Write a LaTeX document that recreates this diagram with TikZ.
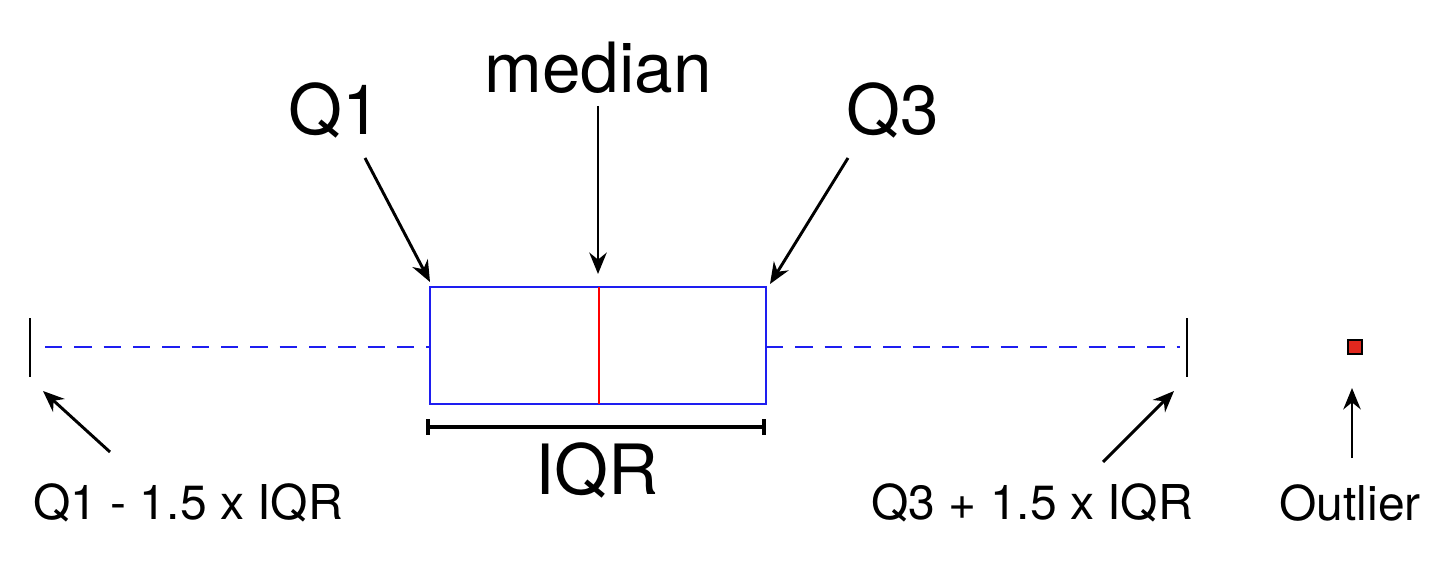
\documentclass[tikz,border=0pt]{standalone}
\usepackage{fontspec}
\setmainfont{TeX Gyre Heros}
\usetikzlibrary{arrows.meta}
\tikzset{every picture/.style={line width=0.75pt}}
\tikzset{
  biglabel/.style={inner sep=0pt, font=\fontsize{52}{56}\selectfont},
  smalllabel/.style={inner sep=0pt, font=\fontsize{36}{40}\selectfont},
  pointer/.style={line width=2.2pt, -{Stealth[length=16pt,width=13pt]}},
  boxline/.style={draw={rgb,255:red,30;green,30;blue,240}, line width=2pt},
  whisker/.style={draw={rgb,255:red,30;green,30;blue,240}, line width=1.6pt, dash pattern=on 13pt off 9pt},
}

\begin{document}
\begin{tikzpicture}[x=0.75pt,y=0.75pt,yscale=-1,xscale=1]
\useasboundingbox (0,0) rectangle (1430,570);

% box
\draw [boxline] (430,287) rectangle (766,404);
\coordinate (boxL) at (430,347);
\coordinate (boxR) at (766,347);
% median line
\draw [red, line width=2pt] (599,287) -- (599,404);

% whiskers
\coordinate (lowend) at (30,347);
\coordinate (highend) at (1187,347);
\draw [whisker] (45,347) -- (boxL);
\draw [whisker] (boxR) -- (1180,347);
\draw [line width=1.8pt] (30,318) -- (30,377);
\draw [line width=1.8pt] (1187,318) -- (1187,377);

% outlier
\node (outpt) [draw=black, fill={rgb,255:red,225;green,40;blue,30}, line width=0.8pt, minimum size=10.5pt, inner sep=0pt] at (1355,347) {};

% IQR bracket
\draw [line width=2.4pt] (428,427) -- (764,427);
\draw [line width=2.4pt] (428,419) -- (428,435);
\draw [line width=2.4pt] (764,419) -- (764,435);

% Text Node
\node (q1) [biglabel] at (335,110) {Q1};
% Text Node
\node (med) [biglabel] at (598,68) {median};
% Text Node
\node (q3) [biglabel] at (893,110) {Q3};
% Text Node
\node (iqr) [biglabel] at (597,470) {IQR};
% Text Node
\node (lowlab) [smalllabel] at (188,503) {Q1 - 1.5 x IQR};
% Text Node
\node (highlab) [smalllabel] at (1032,503) {Q3 + 1.5 x IQR};
% Text Node
\node (outlab) [smalllabel] at (1350,503) {Outlier};

% arrows
\draw [pointer] (365,158) -- (430,282);
\draw [pointer] (598,106) -- (598,274);
\draw [pointer] (848,158) -- (770,284);
\draw [pointer] (110,452) -- (43,391);
\draw [pointer] (1103,462) -- (1174,391);
\draw [pointer] (1352,458) -- (1352,388);

\end{tikzpicture}
\end{document}
